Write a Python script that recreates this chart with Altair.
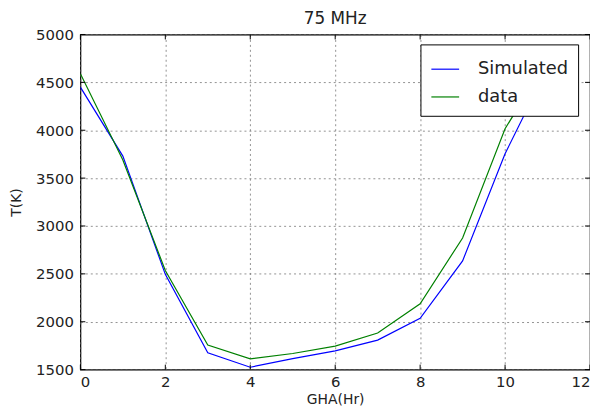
import altair as alt
import pandas as pd

gha = [0, 1, 2, 3, 4, 5, 6, 7, 8, 9, 10, 11]
simulated = [4450, 3730, 2495, 1675, 1525, 1615, 1695, 1808, 2035, 2635, 3755, 4650]
data_vals = [4590, 3690, 2535, 1757, 1612, 1668, 1745, 1882, 2187, 2875, 4015, 4740]
series_names = ["Simulated", "data"]
series_colors = ["#0000ff", "#008000"]
x_ticks = [0, 2, 4, 6, 8, 10, 12]
y_ticks = [1500, 2000, 2500, 3000, 3500, 4000, 4500, 5000]

rows = []
for name, vals in zip(series_names, [simulated, data_vals]):
    for g, v in zip(gha, vals):
        rows.append({"GHA": g, "T": v, "series": name})
df = pd.DataFrame(rows)
xt = pd.DataFrame({"x": x_ticks})
yt = pd.DataFrame({"y": y_ticks})

font = "DejaVu Sans"
W, H = 514, 338
xscale = alt.Scale(domain=[0, 12], nice=False, zero=False)
yscale = alt.Scale(domain=[1500, 5000], nice=False, zero=False)

lines = alt.Chart(df).mark_line(strokeWidth=1.2, clip=True).encode(
    x=alt.X("GHA:Q", scale=xscale,
            axis=alt.Axis(values=x_ticks, title="GHA(Hr)", format="d")),
    y=alt.Y("T:Q", scale=yscale,
            axis=alt.Axis(values=y_ticks, title="T(K)", format="d")),
    color=alt.Color("series:N",
                    scale=alt.Scale(domain=series_names, range=series_colors),
                    legend=alt.Legend(title=None, orient="none", legendX=343, legendY=10,
                                      symbolType="stroke", symbolSize=784,
                                      symbolStrokeWidth=1.2, labelFontSize=18,
                                      labelFont=font, labelColor="#222",
                                      strokeColor="black", fillColor="white",
                                      padding=10, rowPadding=4, labelOffset=18)),
)

yt_left = alt.Chart(yt).mark_rule(color="black", strokeWidth=1).encode(
    y=alt.Y("y:Q", scale=yscale), x=alt.value(0), x2=alt.value(5))
yt_right = alt.Chart(yt).mark_rule(color="black", strokeWidth=1).encode(
    y=alt.Y("y:Q", scale=yscale), x=alt.value(W - 5), x2=alt.value(W))
xt_bot = alt.Chart(xt).mark_rule(color="black", strokeWidth=1).encode(
    x=alt.X("x:Q", scale=xscale), y=alt.value(H - 5), y2=alt.value(H))
xt_top = alt.Chart(xt).mark_rule(color="black", strokeWidth=1).encode(
    x=alt.X("x:Q", scale=xscale), y=alt.value(0), y2=alt.value(5))

chart = alt.layer(lines, yt_left, yt_right, xt_bot, xt_top).properties(
    width=W, height=H,
    title=alt.TitleParams("75 MHz", font=font, fontSize=17, fontWeight="normal",
                          color="#222", anchor="middle", offset=0),
    padding={"left": 73, "top": 25, "right": 0, "bottom": 37},
    autosize=alt.AutoSizeParams(type="none"),
).configure_view(
    stroke="black", strokeWidth=1.2
).configure_axis(
    grid=True, gridColor="#777", gridDash=[2, 3], gridWidth=0.8,
    domain=False, ticks=False,
    labelFont=font, labelFontSize=15, labelColor="#222",
    titleFont=font, titleFontSize=14, titleFontWeight="normal", titleColor="#222",
    labelPadding=7,
).configure_axisY(titlePadding=12).configure_axisX(titlePadding=3, labelPadding=5)

chart.save("out.html", embed_options={"renderer": "svg", "actions": False})
